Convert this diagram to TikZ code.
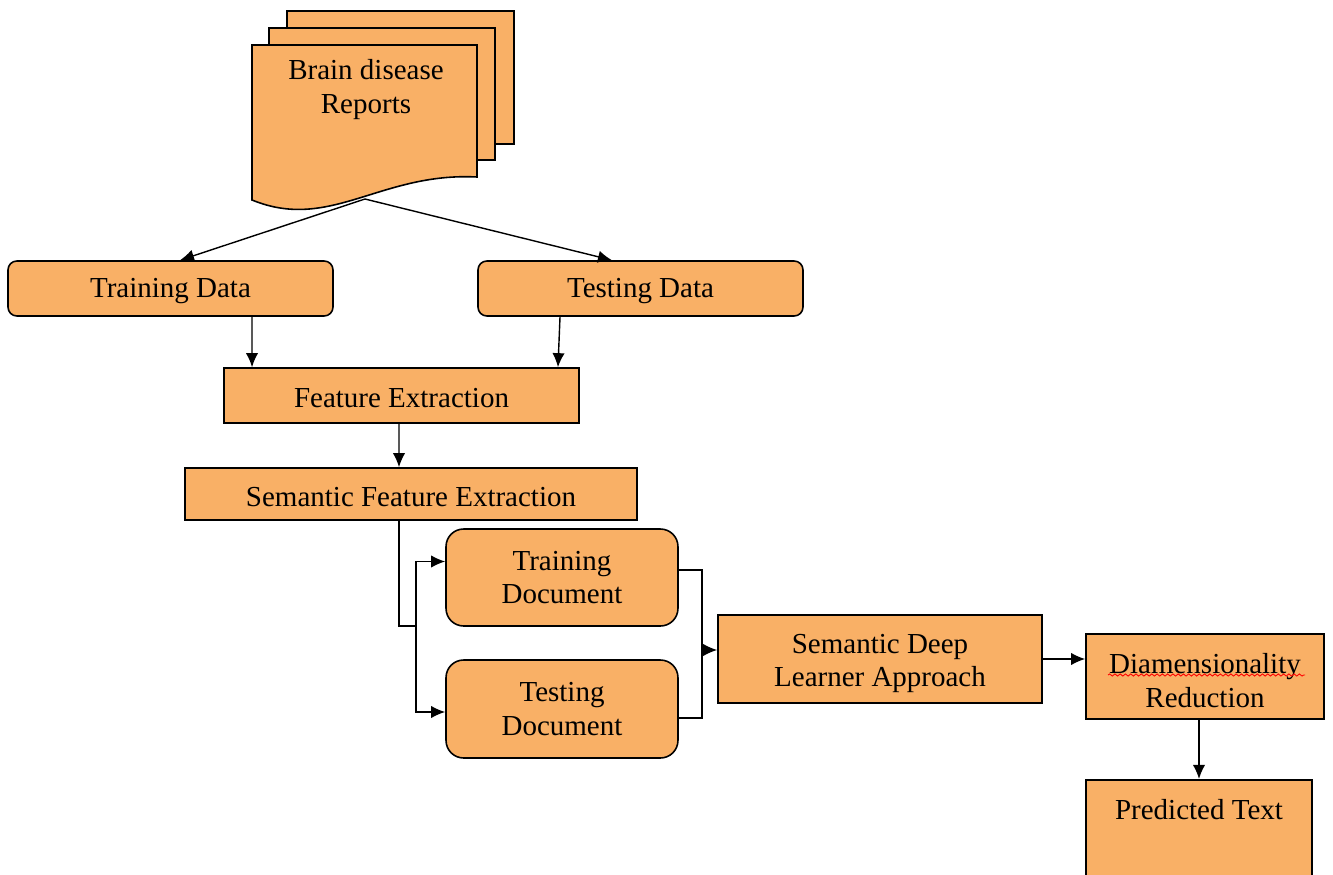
\documentclass[tikz,border=0pt]{standalone}
\usepackage{fontspec}
\setmainfont{Liberation Serif}
\usetikzlibrary{arrows.meta,decorations.pathmorphing}
\definecolor{boxorange}{RGB}{249,176,102}
\newcommand{\textdrop}{\rule{0pt}{16pt}}

\begin{document}
\begin{tikzpicture}[x=0.02cm,y=-0.02cm]
	\tikzset{
	%Define standard arrow tip
	>={Latex[length=8pt,width=7pt]},
	%Define style for boxes
	rbox/.style={
		rectangle,
		rounded corners=5pt,
		draw=black, line width=0.9pt,
		fill=boxorange,
		align=center,
		inner sep=0pt,
		font=\fontsize{16.5}{19}\selectfont,
		execute at begin node={\rule{0pt}{14pt}}},
	sqbox/.style={rbox, sharp corners},
	sheet/.style={draw=black, line width=0.9pt, fill=boxorange},
	% Define arrow style
	pil/.style={->, line width=0.8pt},
	link/.style={line width=0.8pt}
}
	\useasboundingbox (0,0) rectangle (1333,875);

	%stack of reports
	\draw[sheet] (287,11) rectangle (514,144);
	\draw[sheet] (269,28) rectangle (495,160);
	\draw[sheet] (252,45) -- (477,45) -- (477,177)
		.. controls (380,172) and (330,232) .. (252,200) -- cycle;
	\node[align=center,font=\fontsize{16.5}{19}\selectfont] at (366,89.5) (reports) {Brain disease\\Reports};
	\coordinate (docbot) at (365,199);

	%data split
	\node[rbox,minimum width=6.5cm,minimum height=1.1cm] at (170.5,288.5) (traindata) {Training Data};
	\node[rbox,minimum width=6.5cm,minimum height=1.1cm] at (640.5,288.5) (testdata) {Testing Data};
	%features
	\node[sqbox,minimum width=7.1cm,minimum height=1.1cm] at (401.5,395.5) (featext) {Feature Extraction};
	\node[sqbox,minimum width=9.04cm,minimum height=1.04cm] at (411,494) (semfeat) {Semantic Feature Extraction};
	%documents
	\node[rbox,rounded corners=10pt,minimum width=4.64cm,minimum height=1.94cm] at (562,577.5) (traindoc) {Training\\Document};
	\node[rbox,rounded corners=10pt,minimum width=4.64cm,minimum height=1.96cm] at (562,709) (testdoc) {Testing\\Document};
	%learner and output
	\node[sqbox,minimum width=6.48cm,minimum height=1.76cm] at (880,659) (semdeep) {\textdrop Semantic Deep\\Learner Approach};
	\node[sqbox,minimum width=4.76cm,minimum height=1.7cm] at (1205,676.5) (dimred) {\textdrop Diamensionality\\Reduction};
	\node[sqbox,anchor=north,minimum width=4.52cm,minimum height=2.4cm,
		inner ysep=0.2cm,text height=0.58cm,text depth=1.4cm] at (1199,779) (pred) {Predicted Text};
	\draw[red,line width=0.5pt,decorate,decoration={snake,amplitude=0.6pt,segment length=3pt}] (1108,675) -- (1305,675);

	%arrows from the reports
	\draw[pil] (docbot) -- ([xshift=0.19cm]traindata.north);
	\draw[pil] (docbot) -- ([xshift=-0.57cm]testdata.north);
	\draw[pil] ([xshift=1.63cm]traindata.south) -- ([xshift=-2.99cm]featext.north);
	\draw[pil] ([xshift=-1.61cm]testdata.south) -- ([xshift=3.13cm]featext.north);
	\draw[pil] ([xshift=-0.05cm]featext.south) -- ([xshift=-0.24cm]semfeat.north);

	%fork to the documents
	\coordinate (split) at (416,626);
	\draw[link] ([xshift=-0.24cm]semfeat.south) |- (split);
	\draw[pil] (split) |- ([yshift=0.32cm]traindoc.west);
	\draw[pil] (split) |- ([yshift=-0.06cm]testdoc.west);

	%join into the learner
	\coordinate (merge) at (702,650);
	\draw[link] ([yshift=0.15cm]traindoc.east) -| (merge);
	\draw[link] ([yshift=-0.18cm]testdoc.east) -| (merge);
	\draw[pil] (merge) -- (merge -| semdeep.west);
	\draw[pil] (semdeep.east) -- (semdeep.east -| dimred.west);
	\draw[pil] (pred.north |- dimred.south) -- (pred.north);
\end{tikzpicture}
\end{document}
